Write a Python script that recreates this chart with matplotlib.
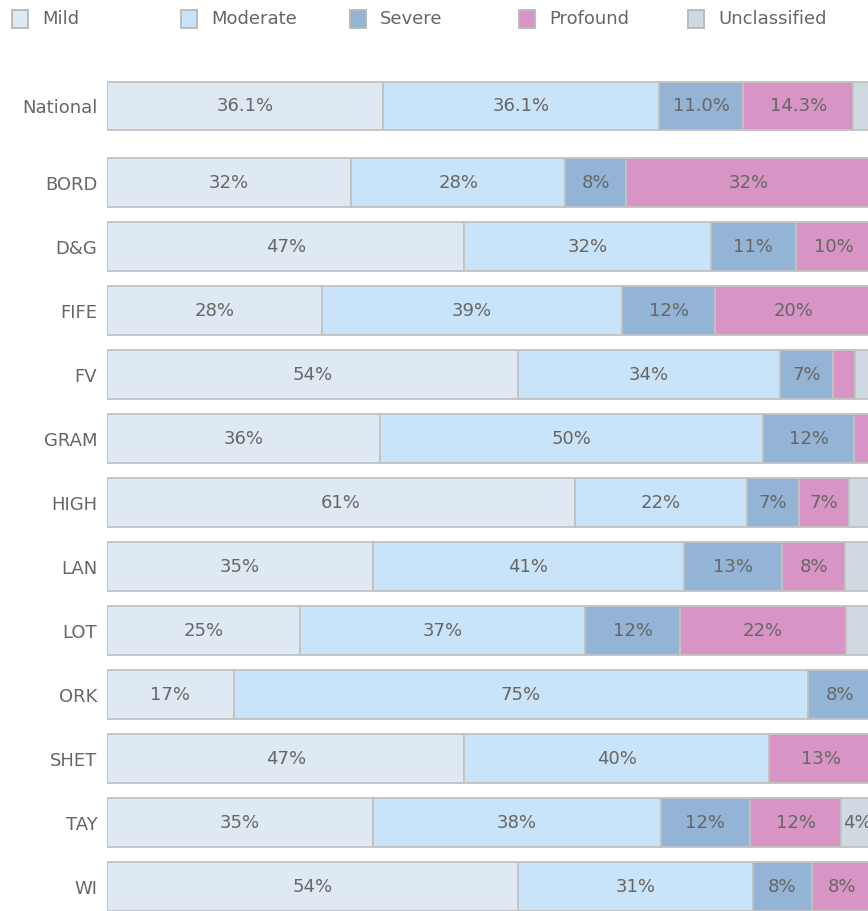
import numpy as np
import matplotlib.pyplot as plt
from matplotlib.patches import Rectangle

# Dati (percentuali)
regioni = ['National', 'BORD', 'D&G', 'FIFE', 'FV', 'GRAM', 'HIGH', 'LAN',
           'LOT', 'ORK', 'SHET', 'TAY', 'WI']
categorie = ['Mild', 'Moderate', 'Severe', 'Profound', 'Unclassified']

mild = [36.1, 31.9, 46.7, 28.1, 53.7, 35.7, 61.2, 34.8, 25.2, 16.6, 46.7, 34.8, 53.7]
moderate = [36.1, 28.0, 32.2, 39.2, 34.3, 50.0, 22.4, 40.6, 37.3, 75.0, 39.9, 37.6, 30.8]
severe = [11.0, 8.0, 11.2, 12.2, 6.9, 12.0, 6.8, 12.9, 12.4, 8.4, 0.0, 11.6, 7.6]
profound = [14.3, 32.1, 9.9, 20.5, 2.9, 2.3, 6.6, 8.2, 21.7, 0.0, 13.4, 12.0, 7.9]
unclassified = [2.5, 0.0, 0.0, 0.0, 2.2, 0.0, 3.0, 3.5, 3.4, 0.0, 0.0, 4.1, 0.0]

serie = [mild, moderate, severe, profound, unclassified]
colori = ['#dfe9f3', '#c9e3f9', '#93b4d4', '#d894c4', '#d0d8e1']
bordo = '#c2c2c2'
testo = '#666666'

W, H = 868, 911
fig = plt.figure(figsize=(W / 100, H / 100), dpi=100)

x0 = 107
ax = fig.add_axes([x0 / W, 0, 1 - x0 / W, 1])

# posizioni verticali: National separato dalle altre righe
pos = np.array([0.0] + [1.2 + i for i in range(len(regioni) - 1)])

sinistra = np.zeros(len(regioni))
for k in range(len(categorie)):
    valori = np.array(serie[k])
    ax.barh(pos, valori, left=sinistra, height=0.76, color=colori[k],
            edgecolor=bordo, linewidth=1.3)
    for i in range(len(regioni)):
        v = valori[i]
        if v >= 3.8:
            if i == 0:
                lab = f'{v:.1f}%'
            else:
                lab = f'{v:.0f}%'
            ax.text(sinistra[i] + v / 2, pos[i], lab, ha='center', va='center',
                    fontsize=13, color=testo)
    sinistra = sinistra + valori

px_per = 7.65
ax.set_xlim(0, (W - x0) / px_per)
ax.set_ylim((H - 106) / 64, -106 / 64)
ax.set_yticks(pos)
ax.set_yticklabels(regioni, fontsize=13, color=testo)
ax.tick_params(axis='y', length=0, pad=7)
ax.set_xticks([])
for s in ax.spines.values():
    s.set_visible(False)

# Legenda in alto
for k in range(len(categorie)):
    lx = 12 + 169 * k
    fig.add_artist(Rectangle((lx / W, 1 - 28 / H), 16 / W, 18 / H,
                             transform=fig.transFigure, facecolor=colori[k],
                             edgecolor='#b8b8b8', linewidth=1.3))
    fig.text((lx + 30) / W, 1 - 19 / H, categorie[k], fontsize=13,
             color=testo, ha='left', va='center')

fig.savefig('out.png', dpi=100)
